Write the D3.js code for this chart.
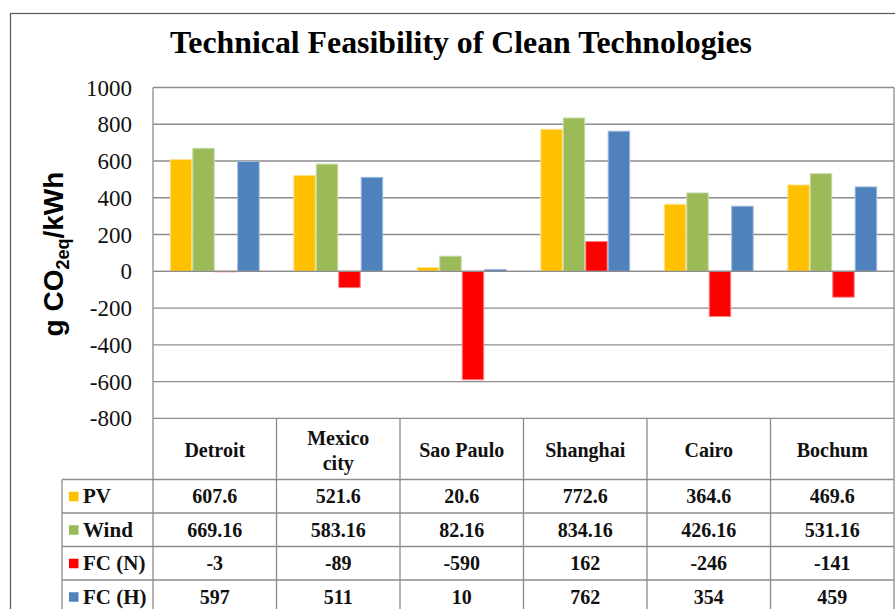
<!DOCTYPE html>
<html>
<head>
<meta charset="utf-8">
<script src="https://cdn.jsdelivr.net/npm/d3@7/dist/d3.min.js"></script>
<style>
  html, body { margin: 0; padding: 0; background: #fff; }
  svg { display: block; }
</style>
</head>
<body>
<svg id="chart" width="895" height="609"></svg>
<script>
const cities = ["Detroit", "Mexico\ncity", "Sao Paulo", "Shanghai", "Cairo", "Bochum"];
const seriesNames = ["PV", "Wind", "FC (N)", "FC (H)"];
const pvValues = [607.6, 521.6, 20.6, 772.6, 364.6, 469.6];
const windValues = [669.16, 583.16, 82.16, 834.16, 426.16, 531.16];
const fcnValues = [-3, -89, -590, 162, -246, -141];
const fchValues = [597, 511, 10, 762, 354, 459];
const tableLabels = [
  ["607.6", "521.6", "20.6", "772.6", "364.6", "469.6"],
  ["669.16", "583.16", "82.16", "834.16", "426.16", "531.16"],
  ["-3", "-89", "-590", "162", "-246", "-141"],
  ["597", "511", "10", "762", "354", "459"]
];
const yTicks = [-800, -600, -400, -200, 0, 200, 400, 600, 800, 1000];
const colors = ["#FFC000", "#9BBB59", "#FF0000", "#4F81BD"];
const strokeColors = ["#FFE08A", "#C7DBA6", "#FF8080", "#9DB8DE"];

const allValues = [pvValues, windValues, fcnValues, fchValues];

(function () {
const svg = d3.select("#chart");
const pLeft = 153, pRight = 894, pTop = 87.5, pBottom = 418.3;
const gridColor = "#8C8C8C";
const serif = "'Liberation Serif', 'Times New Roman', serif";

// outer border
svg.append("rect").attr("x", 10.5).attr("y", 13.5).attr("width", 900).attr("height", 620)
  .attr("fill", "none").attr("stroke", "#595959").attr("stroke-width", 1.2);

// title
svg.append("text").attr("x", 461).attr("y", 53)
  .attr("text-anchor", "middle").attr("font-family", serif).attr("font-weight", "bold")
  .attr("font-size", 31.8).attr("fill", "#000")
  .text("Technical Feasibility of Clean Technologies");

const y = d3.scaleLinear().domain([-800, 1000]).range([pBottom, pTop]);
const x0 = d3.scaleBand().domain(d3.range(cities.length)).range([pLeft, pRight]).padding(0);
const x1 = d3.scaleBand().domain(d3.range(seriesNames.length)).range([0, x0.bandwidth()])
  .paddingInner(0).paddingOuter(0.75);

// gridlines
svg.append("g").selectAll("line").data(yTicks).join("line")
  .attr("x1", pLeft).attr("x2", pRight)
  .attr("y1", d => y(d)).attr("y2", d => y(d))
  .attr("stroke", gridColor).attr("stroke-width", 1.3);

// y tick labels
svg.append("g").selectAll("text").data(yTicks).join("text")
  .attr("x", 132).attr("y", d => y(d) + 8)
  .attr("text-anchor", "end").attr("font-family", serif).attr("font-size", 23)
  .attr("fill", "#111").text(d => d);

// y axis title
const yt = svg.append("text")
  .attr("transform", "translate(63,254) rotate(-90)")
  .attr("text-anchor", "middle").attr("font-family", "'Liberation Sans', Arial, sans-serif")
  .attr("font-weight", "bold").attr("font-size", 28).attr("fill", "#000");
yt.append("tspan").text("g CO");
yt.append("tspan").attr("font-size", 18).attr("dy", 6).text("2eq");
yt.append("tspan").attr("dy", -6).text("/kWh");

// bars
const groups = svg.append("g").selectAll("g").data(cities).join("g")
  .attr("transform", (d, i) => `translate(${x0(i)},0)`);
groups.selectAll("rect").data((d, i) => allValues.map((vals, s) => ({ s, v: vals[i] })))
  .join("rect")
  .attr("x", d => x1(d.s) + 0.5)
  .attr("width", x1.bandwidth() - 1)
  .attr("y", d => Math.min(y(d.v), y(0)))
  .attr("height", d => Math.abs(y(d.v) - y(0)))
  .attr("fill", d => colors[d.s])
  .attr("stroke", d => strokeColors[d.s]).attr("stroke-width", 1);

// zero line redraw on top
svg.append("line").attr("x1", pLeft).attr("x2", pRight).attr("y1", y(0)).attr("y2", y(0))
  .attr("stroke", gridColor).attr("stroke-width", 1.3);

// table lines
const headerBottom = 479.5;
const rowH = 33.5;
const tableBottom = 640;
const rowLines = [headerBottom, headerBottom + rowH, headerBottom + 2 * rowH, headerBottom + 3 * rowH, headerBottom + 4 * rowH];
const tl = svg.append("g").attr("stroke", gridColor).attr("stroke-width", 1.3);
tl.selectAll("line.h").data(rowLines).join("line").attr("class", "h")
  .attr("x1", 62).attr("x2", pRight).attr("y1", d => d).attr("y2", d => d);
tl.append("line").attr("x1", pLeft).attr("x2", pLeft).attr("y1", pTop).attr("y2", tableBottom);
tl.append("line").attr("x1", pRight).attr("x2", pRight).attr("y1", pTop).attr("y2", tableBottom);
tl.append("line").attr("x1", 62).attr("x2", 62).attr("y1", headerBottom).attr("y2", tableBottom);
tl.selectAll("line.v").data(d3.range(1, cities.length)).join("line").attr("class", "v")
  .attr("x1", i => x0(i)).attr("x2", i => x0(i)).attr("y1", pBottom).attr("y2", tableBottom);

// category labels
const cat = svg.append("g").selectAll("text").data(cities).join("text")
  .attr("text-anchor", "middle").attr("font-family", serif).attr("font-weight", "bold")
  .attr("font-size", 20).attr("fill", "#111")
  .attr("x", (d, i) => x0(i) + x0.bandwidth() / 2);
cat.each(function(d, i) {
  const lines = d.split("\n");
  const t = d3.select(this);
  const startY = 450 + 7 - (lines.length - 1) * 12.5;
  lines.forEach((ln, k) => {
    t.append("tspan").attr("x", x0(i) + x0.bandwidth() / 2).attr("y", startY + k * 25).text(ln);
  });
});

// table values
seriesNames.forEach((name, s) => {
  const cy = headerBottom + rowH * s + rowH / 2;
  svg.append("g").selectAll("text").data(tableLabels[s]).join("text")
    .attr("x", (d, i) => x0(i) + x0.bandwidth() / 2).attr("y", cy + 7)
    .attr("text-anchor", "middle").attr("font-family", serif).attr("font-weight", "bold")
    .attr("font-size", 20).attr("fill", "#111").text(d => d);
  svg.append("rect").attr("x", 69).attr("y", cy - 4.5).attr("width", 9.5).attr("height", 9.5)
    .attr("fill", colors[s]);
  svg.append("text").attr("x", 83).attr("y", cy + 7)
    .attr("font-family", serif).attr("font-weight", "bold").attr("font-size", 21)
    .attr("fill", "#111").text(name);
});
})();
</script>
</body>
</html>
